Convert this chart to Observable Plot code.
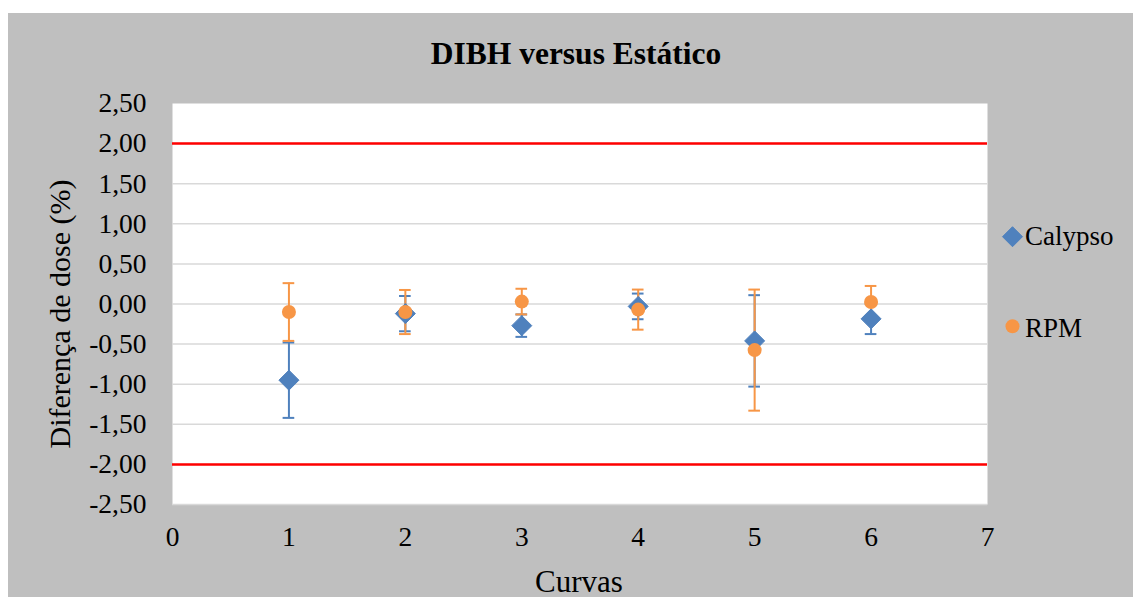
<!DOCTYPE html>
<html><head><meta charset="utf-8">
<script src="https://cdn.jsdelivr.net/npm/d3@7"></script>
<script src="https://cdn.jsdelivr.net/npm/@observablehq/plot@0.6"></script>
<style>
html,body{margin:0;padding:0;background:#fff;width:1133px;height:597px;overflow:hidden;}
#chart{position:absolute;left:8px;top:13px;width:1125px;height:584px;background:#bfbfbf;}
#chart svg{display:block;}
</style></head><body><div id="chart"></div>
<script>
const curvas = [1, 2, 3, 4, 5, 6];
const calypso = [-0.95, -0.12, -0.27, -0.03, -0.46, -0.185];
const calypsoErr = [0.47, 0.22, 0.14, 0.16, 0.57, 0.19];
const rpm = [-0.10, -0.10, 0.03, -0.07, -0.575, 0.025];
const rpmErr = [0.36, 0.275, 0.16, 0.25, 0.755, 0.20];
const limits = [2, -2];
const yTicks = [-2.5, -2, -1.5, -1, -0.5, 0, 0.5, 1, 1.5, 2, 2.5];
const xTicks = [0, 1, 2, 3, 4, 5, 6, 7];
const seriesNames = ["Calypso", "RPM"];
const title = "DIBH versus Estático";
const xLabel = "Curvas";
const yLabel = "Diferença de dose (%)";

const blue = "#4f81bd", orange = "#f79646";
const font = "Liberation Serif, Times New Roman, serif";

const calData = curvas.map((x, i) => ({x, y: calypso[i], e: calypsoErr[i]}));
const rpmData = curvas.map((x, i) => ({x, y: rpm[i], e: rpmErr[i]}));

const diamond = {
  draw(ctx, size) {
    const r = Math.sqrt(size / Math.PI);
    ctx.moveTo(0, -r); ctx.lineTo(r, 0); ctx.lineTo(0, r); ctx.lineTo(-r, 0); ctx.closePath();
  }
};

const capHalf = 0.05;
function errMarks(data, color) {
  return [
    Plot.ruleX(data, {x: "x", y1: d => d.y - d.e, y2: d => d.y + d.e, stroke: color, strokeWidth: 2}),
    Plot.ruleY(data, {y: d => d.y + d.e, x1: d => d.x - capHalf, x2: d => d.x + capHalf, stroke: color, strokeWidth: 2}),
    Plot.ruleY(data, {y: d => d.y - d.e, x1: d => d.x - capHalf, x2: d => d.x + capHalf, stroke: color, strokeWidth: 2})
  ];
}

const chart = Plot.plot({
  width: 1125,
  height: 584,
  marginLeft: 164,
  marginRight: 146,
  marginTop: 90,
  marginBottom: 93,
  style: {fontFamily: font, fontSize: "27.5px", background: "#bfbfbf", color: "black", overflow: "visible"},
  x: {domain: [0, 7]},
  y: {domain: [-2.5, 2.5]},
  marks: [
    Plot.frame({fill: "white", stroke: "none"}),
    Plot.gridY(yTicks.filter(t => t < 2.5), {stroke: "#d9d9d9", strokeOpacity: 1, strokeWidth: 1.5}),
    Plot.ruleY(limits, {stroke: "#ff0000", strokeWidth: 2.5}),
    Plot.axisY(yTicks, {tickSize: 0, tickPadding: 26, tickFormat: d => d.toFixed(2).replace(".", ","), label: null, fill: "black", fontFamily: font}),
    Plot.axisX(xTicks, {tickSize: 0, tickPadding: 22, tickFormat: d => String(d), label: null, fill: "black", fontFamily: font}),
    ...errMarks(calData, blue),
    ...errMarks(rpmData, orange),
    Plot.dot(calData, {x: "x", y: "y", symbol: diamond, r: 10, fill: blue, stroke: blue, strokeWidth: 1, strokeLinejoin: "round"}),
    Plot.dot(rpmData, {x: "x", y: "y", r: 7, fill: orange, stroke: "none"})
  ]
});

document.getElementById("chart").appendChild(chart);

// Title, axis labels and legend as SVG text
const svg = d3.select(chart);
svg.append("text").text(title)
  .attr("x", 568).attr("y", 50.5)
  .attr("text-anchor", "middle").attr("font-weight", "bold")
  .attr("font-size", "31.5px").attr("font-family", font).attr("fill", "black");
svg.append("text").text(xLabel)
  .attr("x", 571).attr("y", 579)
  .attr("text-anchor", "middle")
  .attr("font-size", "31px").attr("font-family", font).attr("fill", "black");
svg.append("text").text(yLabel)
  .attr("transform", "translate(62,301) rotate(-90)")
  .attr("text-anchor", "middle")
  .attr("font-size", "30px").attr("font-family", font).attr("fill", "black");

const legend = svg.append("g").attr("text-anchor", "start");
const symD = d3.symbol().type(diamond).size(Math.PI * 100);
legend.append("path").attr("d", symD()).attr("transform", "translate(1004.5,223.7)")
  .attr("fill", blue).attr("stroke", blue).attr("stroke-linejoin", "round");
legend.append("text").text(seriesNames[0]).attr("x", 1017).attr("y", 232)
  .attr("text-anchor", "start")
  .attr("font-size", "27px").attr("font-family", font).attr("fill", "black");
legend.append("circle").attr("cx", 1004.5).attr("cy", 313.3).attr("r", 7).attr("fill", orange);
legend.append("text").text(seriesNames[1]).attr("x", 1017).attr("y", 323.7)
  .attr("text-anchor", "start")
  .attr("font-size", "27px").attr("font-family", font).attr("fill", "black");
</script>
</body></html>
